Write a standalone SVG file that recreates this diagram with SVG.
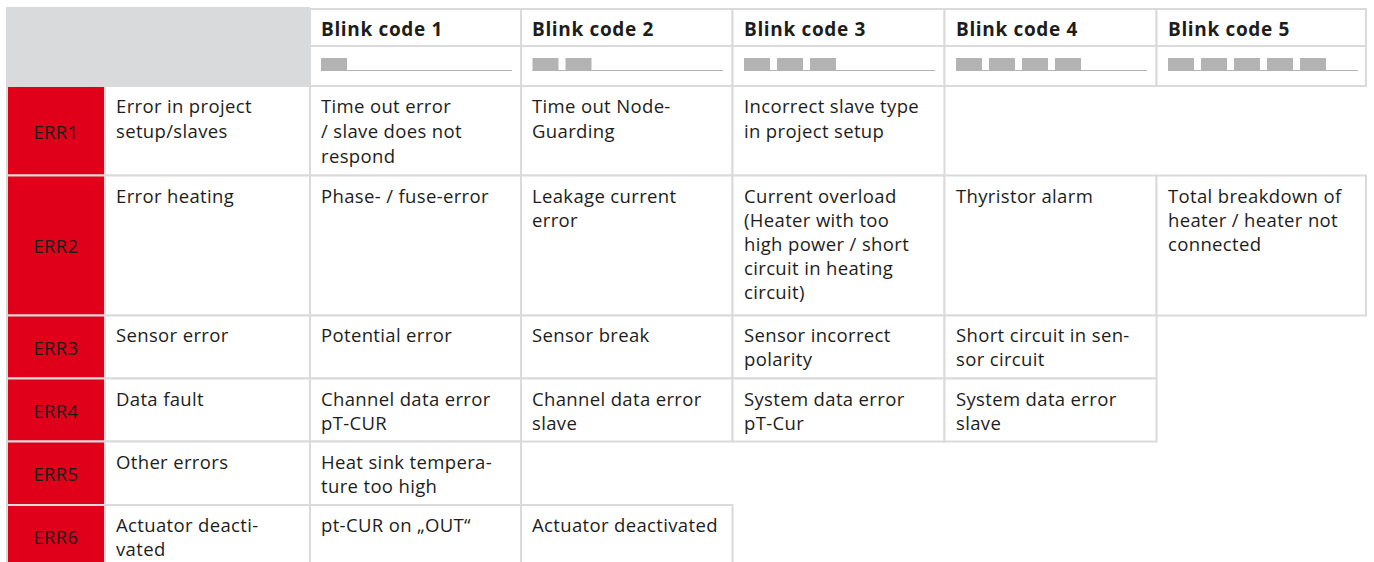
<svg xmlns="http://www.w3.org/2000/svg" width="1374" height="562" viewBox="0 0 1374 562">
  <style>
    .cell { fill: #ffffff; stroke: #dadada; stroke-width: 2; }
    .err { fill: #e1001a; stroke: #dadada; stroke-width: 2; }
    .head { fill: #d9dadb; }
    .t { font-family: "Open Sans", "Noto Sans", "Liberation Sans", sans-serif; font-size: 18.5px; letter-spacing: 0.35px; fill: #1d1d1b; }
    .b { font-weight: bold; font-size: 19px; letter-spacing: 0.65px; }
    .code { text-anchor: middle; }
    .pulse { fill: #b3b3b3; }
    .base { stroke: #b3b3b3; stroke-width: 1; }
  </style>
  <defs>
    <rect id="pulse" class="pulse" x="0" y="58" width="26" height="13"/>
  </defs>

  <rect width="1374" height="562" fill="#ffffff"/>

  <!-- header: grey corner block plus blink code columns -->
  <g id="header">
    <rect class="head" x="6" y="7" width="304" height="79"/>
    <rect class="cell" x="310" y="9" width="211" height="37"/>
    <rect class="cell" x="521" y="9" width="211.5" height="37"/>
    <rect class="cell" x="732.5" y="9" width="212" height="37"/>
    <rect class="cell" x="944.5" y="9" width="212" height="37"/>
    <rect class="cell" x="1156.5" y="9" width="209.5" height="37"/>
    <rect class="cell" x="310" y="46" width="211" height="40"/>
    <rect class="cell" x="521" y="46" width="211.5" height="40"/>
    <rect class="cell" x="732.5" y="46" width="212" height="40"/>
    <rect class="cell" x="944.5" y="46" width="212" height="40"/>
    <rect class="cell" x="1156.5" y="46" width="209.5" height="40"/>
    <text class="t b" x="321" y="36">Blink code 1</text>
    <text class="t b" x="532" y="36">Blink code 2</text>
    <text class="t b" x="744" y="36">Blink code 3</text>
    <text class="t b" x="956" y="36">Blink code 4</text>
    <text class="t b" x="1168" y="36">Blink code 5</text>
  </g>

  <!-- blink pulse patterns -->
  <g id="pulses">
    <line class="base" x1="321" y1="70.5" x2="512" y2="70.5"/>
    <use href="#pulse" x="321"/>
    <line class="base" x1="532.5" y1="70.5" x2="723" y2="70.5"/>
    <use href="#pulse" x="532.5"/><use href="#pulse" x="565.5"/>
    <line class="base" x1="744" y1="70.5" x2="935" y2="70.5"/>
    <use href="#pulse" x="744"/><use href="#pulse" x="777"/><use href="#pulse" x="810"/>
    <line class="base" x1="956" y1="70.5" x2="1147" y2="70.5"/>
    <use href="#pulse" x="956"/><use href="#pulse" x="989"/><use href="#pulse" x="1022"/><use href="#pulse" x="1055"/>
    <line class="base" x1="1168" y1="70.5" x2="1358" y2="70.5"/>
    <use href="#pulse" x="1168"/><use href="#pulse" x="1201"/><use href="#pulse" x="1234"/><use href="#pulse" x="1267"/><use href="#pulse" x="1300"/>
  </g>

  <g id="err1">
    <rect class="err" x="7" y="86" width="98" height="89.5"/>
    <rect class="cell" x="105" y="86" width="205" height="89.5"/>
    <rect class="cell" x="310" y="86" width="211" height="89.5"/>
    <rect class="cell" x="521" y="86" width="211.5" height="89.5"/>
    <rect class="cell" x="732.5" y="86" width="212" height="89.5"/>
    <text class="t code" x="56" y="139">ERR1</text>
    <text class="t" x="116" y="113">Error in project</text>
    <text class="t" x="116" y="138">setup/slaves</text>
    <text class="t" x="321" y="113">Time out error</text>
    <text class="t" x="321" y="138">/ slave does not</text>
    <text class="t" x="321" y="163">respond</text>
    <text class="t" x="532" y="113">Time out Node-</text>
    <text class="t" x="532" y="138">Guarding</text>
    <text class="t" x="744" y="113">Incorrect slave type</text>
    <text class="t" x="744" y="138">in project setup</text>
  </g>

  <g id="err2">
    <rect class="err" x="7" y="175.5" width="98" height="140"/>
    <rect class="cell" x="105" y="175.5" width="205" height="140"/>
    <rect class="cell" x="310" y="175.5" width="211" height="140"/>
    <rect class="cell" x="521" y="175.5" width="211.5" height="140"/>
    <rect class="cell" x="732.5" y="175.5" width="212" height="140"/>
    <rect class="cell" x="944.5" y="175.5" width="212" height="140"/>
    <rect class="cell" x="1156.5" y="175.5" width="209.5" height="140"/>
    <text class="t code" x="56" y="253">ERR2</text>
    <text class="t" x="116" y="202.5">Error heating</text>
    <text class="t" x="321" y="202.5">Phase- / fuse-error</text>
    <text class="t" x="532" y="202.5">Leakage current</text>
    <text class="t" x="532" y="226.5">error</text>
    <text class="t" x="744" y="202.5">Current overload</text>
    <text class="t" x="744" y="226.5">(Heater with too</text>
    <text class="t" x="744" y="250.5">high power / short</text>
    <text class="t" x="744" y="274.5">circuit in heating</text>
    <text class="t" x="744" y="298.5">circuit)</text>
    <text class="t" x="956" y="202.5">Thyristor alarm</text>
    <text class="t" x="1168" y="202.5">Total breakdown of</text>
    <text class="t" x="1168" y="226.5">heater / heater not</text>
    <text class="t" x="1168" y="250.5">connected</text>
  </g>

  <g id="err3">
    <rect class="err" x="7" y="315.5" width="98" height="63"/>
    <rect class="cell" x="105" y="315.5" width="205" height="63"/>
    <rect class="cell" x="310" y="315.5" width="211" height="63"/>
    <rect class="cell" x="521" y="315.5" width="211.5" height="63"/>
    <rect class="cell" x="732.5" y="315.5" width="212" height="63"/>
    <rect class="cell" x="944.5" y="315.5" width="212" height="63"/>
    <text class="t code" x="56" y="355">ERR3</text>
    <text class="t" x="116" y="342">Sensor error</text>
    <text class="t" x="321" y="342">Potential error</text>
    <text class="t" x="532" y="342">Sensor break</text>
    <text class="t" x="744" y="342">Sensor incorrect</text>
    <text class="t" x="744" y="366">polarity</text>
    <text class="t" x="956" y="342">Short circuit in sen-</text>
    <text class="t" x="956" y="366">sor circuit</text>
  </g>

  <g id="err4">
    <rect class="err" x="7" y="378.5" width="98" height="63"/>
    <rect class="cell" x="105" y="378.5" width="205" height="63"/>
    <rect class="cell" x="310" y="378.5" width="211" height="63"/>
    <rect class="cell" x="521" y="378.5" width="211.5" height="63"/>
    <rect class="cell" x="732.5" y="378.5" width="212" height="63"/>
    <rect class="cell" x="944.5" y="378.5" width="212" height="63"/>
    <text class="t code" x="56" y="418">ERR4</text>
    <text class="t" x="116" y="405.5">Data fault</text>
    <text class="t" x="321" y="405.5">Channel data error</text>
    <text class="t" x="321" y="429.5">pT-CUR</text>
    <text class="t" x="532" y="405.5">Channel data error</text>
    <text class="t" x="532" y="429.5">slave</text>
    <text class="t" x="744" y="405.5">System data error</text>
    <text class="t" x="744" y="429.5">pT-Cur</text>
    <text class="t" x="956" y="405.5">System data error</text>
    <text class="t" x="956" y="429.5">slave</text>
  </g>

  <g id="err5">
    <rect class="err" x="7" y="441.5" width="98" height="63.5"/>
    <rect class="cell" x="105" y="441.5" width="205" height="63.5"/>
    <rect class="cell" x="310" y="441.5" width="211" height="63.5"/>
    <text class="t code" x="56" y="481">ERR5</text>
    <text class="t" x="116" y="469">Other errors</text>
    <text class="t" x="321" y="469">Heat sink tempera-</text>
    <text class="t" x="321" y="493">ture too high</text>
  </g>

  <g id="err6">
    <rect class="err" x="7" y="505" width="98" height="70"/>
    <rect class="cell" x="105" y="505" width="205" height="70"/>
    <rect class="cell" x="310" y="505" width="211" height="70"/>
    <rect class="cell" x="521" y="505" width="211.5" height="70"/>
    <text class="t code" x="56" y="544">ERR6</text>
    <text class="t" x="116" y="531.5">Actuator deacti-</text>
    <text class="t" x="116" y="555.5">vated</text>
    <text class="t" x="321" y="531.5">pt-CUR on „OUT“</text>
    <text class="t" x="532" y="531.5">Actuator deactivated</text>
  </g>
</svg>
